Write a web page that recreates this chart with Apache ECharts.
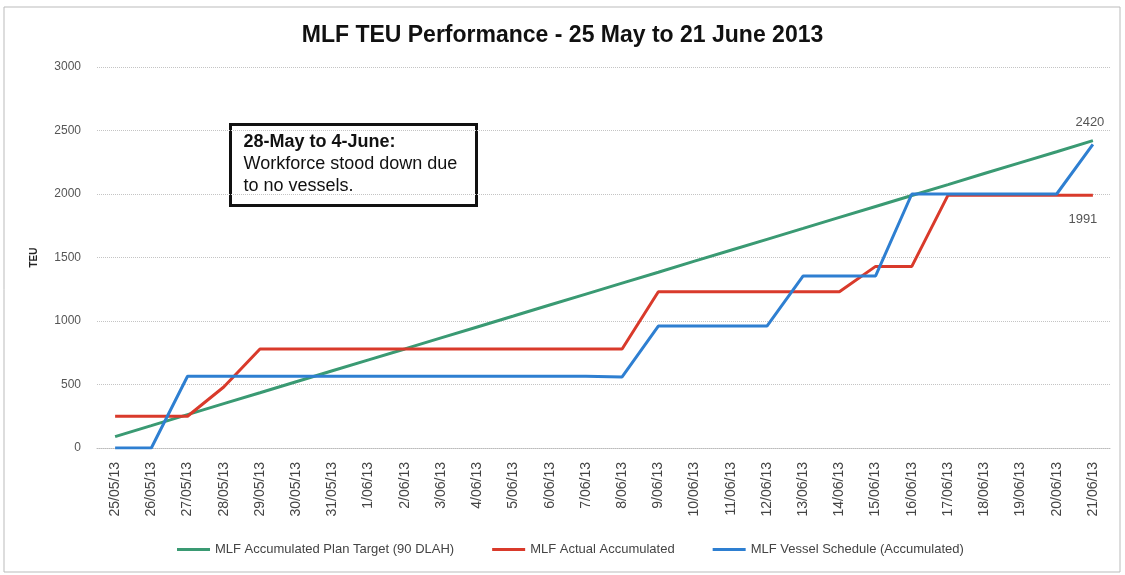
<!DOCTYPE html>
<html>
<head>
<meta charset="utf-8">
<title>MLF TEU Performance</title>
<script src="https://cdn.jsdelivr.net/npm/echarts@6/dist/echarts.min.js"></script>
<style>
  html, body { margin: 0; padding: 0; background: #fff; }
  #chart { width: 1125px; height: 575px; }
</style>
</head>
<body>
<div id="chart"></div>
<script>
// days on the x axis
var days = ["25/05/13", "26/05/13", "27/05/13", "28/05/13", "29/05/13", "30/05/13", "31/05/13",
  "1/06/13", "2/06/13", "3/06/13", "4/06/13", "5/06/13", "6/06/13", "7/06/13", "8/06/13",
  "9/06/13", "10/06/13", "11/06/13", "12/06/13", "13/06/13", "14/06/13", "15/06/13",
  "16/06/13", "17/06/13", "18/06/13", "19/06/13", "20/06/13", "21/06/13"];

// green - plan target
var planTarget = [90, 176, 263, 349, 435, 522, 608, 694, 780, 867, 953, 1039, 1126, 1212,
  1298, 1384, 1471, 1557, 1643, 1729, 1816, 1902, 1988, 2074, 2161, 2247, 2333, 2420];
// red - actual
var actual = [250, 250, 250, 480, 780, 780, 780, 780, 780, 780, 780, 780, 780, 780,
  780, 1230, 1230, 1230, 1230, 1230, 1230, 1430, 1430, 1991, 1991, 1991, 1991, 1991];
// blue - vessel schedule
var vessel = [0, 0, 565, 565, 565, 565, 565, 565, 565, 565, 565, 565, 565, 565,
  560, 960, 960, 960, 960, 1355, 1355, 1355, 2000, 2000, 2000, 2000, 2000, 2390];

var seriesNames = ["MLF Accumulated Plan Target (90 DLAH)", "MLF Actual Accumulated", "MLF Vessel Schedule (Accumulated)"];

var myChart = echarts.init(document.getElementById("chart"));
myChart.setOption({
  animation: false,
  color: ["#3a9a73", "#d93a2b", "#2e7fd1"],
  title: {
    text: "MLF TEU Performance - 25 May to 21 June 2013",
    left: "center",
    top: 19,
    textStyle: { fontSize: 23, fontWeight: "bold", color: "#111", fontFamily: "Liberation Sans" }
  },
  legend: {
    bottom: 14,
    left: 172,
    icon: "rect",
    itemWidth: 33,
    itemHeight: 3,
    itemGap: 38,
    textStyle: { fontSize: 13, color: "#444", fontFamily: "Liberation Sans" },
    data: seriesNames
  },
  grid: { left: 97, right: 14, top: 67, bottom: 127 },
  xAxis: {
    type: "category",
    data: days,
    boundaryGap: true,
    axisLine: { lineStyle: { color: "#bbb", type: "dotted" } },
    axisTick: { show: false },
    axisLabel: {
      interval: 0,
      rotate: 90,
      margin: 14,
      color: "#444",
      fontSize: 14,
      fontFamily: "Liberation Sans"
    }
  },
  yAxis: {
    type: "value",
    min: 0,
    max: 3000,
    interval: 500,
    name: "TEU",
    nameLocation: "middle",
    nameGap: 58,
    nameTextStyle: { fontSize: 10, fontWeight: "bold", color: "#222" },
    axisLine: { show: false },
    axisTick: { show: false },
    axisLabel: {
      color: "#555", fontSize: 12, margin: 16, fontFamily: "Liberation Sans",
      formatter: function (v) { return String(v); }
    },
    splitLine: { lineStyle: { color: "#c4c4c4", type: "dotted" } }
  },
  series: [
    {
      name: seriesNames[0],
      type: "line",
      symbol: "none",
      lineStyle: { width: 3 },
      endLabel: {
        show: true, formatter: "{c}", align: "center", distance: 0, offset: [-3, -18],
        color: "#555", fontSize: 13, fontFamily: "Liberation Sans"
      },
      data: planTarget
    },
    {
      name: seriesNames[1],
      type: "line",
      symbol: "none",
      lineStyle: { width: 3 },
      endLabel: {
        show: true, formatter: "{c}", align: "center", distance: 0, offset: [-10, 24],
        color: "#555", fontSize: 13, fontFamily: "Liberation Sans"
      },
      data: actual
    },
    {
      name: seriesNames[2],
      type: "line",
      symbol: "none",
      lineStyle: { width: 3 },
      data: vessel
    }
  ],
  graphic: [
    {
      // outer chart frame
      type: "rect",
      shape: { x: 4, y: 7, width: 1116, height: 565 },
      style: { fill: "none", stroke: "#bbb", lineWidth: 1 },
      silent: true
    },
    {
      // note box
      type: "group",
      left: 229,
      top: 123,
      children: [
        {
          type: "rect",
          shape: { x: 0, y: 0, width: 246, height: 81 },
          style: { fill: "#fff", stroke: "#111", lineWidth: 3 }
        },
        {
          type: "text",
          x: 13,
          y: 7,
          style: {
            text: "{b|28-May to 4-June:}\nWorkforce stood down due\nto no vessels.",
            fontSize: 18,
            lineHeight: 22,
            fontFamily: "Liberation Sans",
            fill: "#111",
            rich: { b: { fontWeight: "bold", fontSize: 18, lineHeight: 22, fontFamily: "Liberation Sans" } }
          }
        }
      ]
    }
  ]
});
</script>
</body>
</html>
